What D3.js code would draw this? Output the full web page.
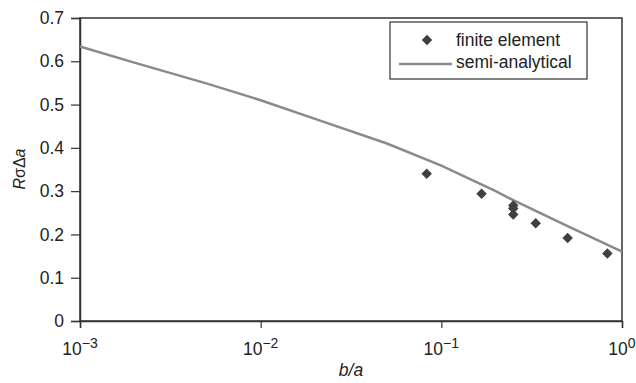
<!DOCTYPE html>
<html>
<head>
<meta charset="utf-8">
<script src="https://cdn.jsdelivr.net/npm/d3@7"></script>
<style>
  body { margin: 0; background: #fff; }
  svg { font-family: "Liberation Sans", Arial, sans-serif; }
</style>
</head>
<body>
<svg id="chart" width="636" height="383"></svg>
<script>
// finite element results (b/a, R sigma Delta a)
const feRatio = [0.083, 0.167, 0.25, 0.25, 0.25, 0.333, 0.5, 0.83];
const feValue = [0.340, 0.294, 0.267, 0.260, 0.246, 0.226, 0.192, 0.156];

// semi-analytical curve
const saRatio = [0.001, 0.002, 0.005, 0.01, 0.02, 0.05, 0.1, 0.2, 0.25, 0.5, 1];
const saValue = [0.634, 0.597, 0.549, 0.510, 0.467, 0.410, 0.359, 0.300, 0.279, 0.219, 0.160];

const xTicks = [1e-3, 1e-2, 1e-1, 1];
const xTickExp = ["\u22123", "\u22122", "\u22121", "0"];
const yTicks = [0, 0.1, 0.2, 0.3, 0.4, 0.5, 0.6, 0.7];

const svg = d3.select("#chart");
const plotLeft = 80, plotRight = 622, plotTop = 18, plotBottom = 321;
const fs = 17.5;

const x = d3.scaleLog().domain([1e-3, 1]).range([plotLeft, plotRight]);
const y = d3.scaleLinear().domain([0, 0.7]).range([plotBottom, plotTop]);

// frame
svg.append("rect")
    .attr("x", plotLeft).attr("y", plotTop)
    .attr("width", plotRight - plotLeft).attr("height", plotBottom - plotTop)
    .attr("fill", "none").attr("stroke", "#333").attr("stroke-width", 1.5);

// y axis
const yAxis = svg.append("g")
    .attr("transform", `translate(${plotLeft},0)`)
    .call(d3.axisLeft(y).tickValues(yTicks).tickSize(9).tickPadding(7)
        .tickFormat(d => d === 0 ? "0" : d3.format(".1f")(d)));
yAxis.select(".domain").attr("stroke", "#333").attr("stroke-width", 1.5);
yAxis.selectAll(".tick line").attr("stroke", "#333").attr("stroke-width", 1.2);
yAxis.selectAll("text").attr("font-size", fs).attr("fill", "#222");

// x axis
const xAxis = svg.append("g")
    .attr("transform", `translate(0,${plotBottom})`)
    .call(d3.axisBottom(x).tickValues(xTicks).tickSize(7).tickFormat(""));
xAxis.select(".domain").attr("stroke", "#333").attr("stroke-width", 1.5);
xAxis.selectAll(".tick line").attr("stroke", "#333").attr("stroke-width", 1.2);

const xLab = svg.append("g").selectAll("text")
    .data(xTicks)
    .join("text")
    .attr("x", d => x(d))
    .attr("y", plotBottom + 34)
    .attr("text-anchor", "middle")
    .attr("font-size", fs)
    .attr("fill", "#222");
xLab.append("tspan").text("10");
xLab.append("tspan").attr("dy", -7).attr("font-size", 14).text((d, i) => xTickExp[i]);

// axis titles
svg.append("text")
    .attr("x", (plotLeft + plotRight) / 2).attr("y", 376)
    .attr("text-anchor", "middle").attr("font-size", fs).attr("fill", "#222")
    .attr("font-style", "italic").text("b/a");

const yTitle = svg.append("text")
    .attr("transform", "translate(25,169) rotate(-90)")
    .attr("text-anchor", "middle").attr("font-size", 16).attr("fill", "#222");
yTitle.append("tspan").attr("font-style", "italic").text("R");
yTitle.append("tspan").text("\u03c3\u0394");
yTitle.append("tspan").attr("font-style", "italic").text("a");

// semi-analytical line
const saData = saRatio.map((r, i) => [r, saValue[i]]);
svg.append("path")
    .datum(saData)
    .attr("fill", "none").attr("stroke", "#8a8a8a").attr("stroke-width", 2.5)
    .attr("d", d3.line().x(d => x(d[0])).y(d => y(d[1])));

// finite element diamonds
const diamond = d3.symbol().type(d3.symbolSquare).size(55);
svg.append("g").selectAll("path")
    .data(feRatio.map((r, i) => [r, feValue[i]]))
    .join("path")
    .attr("d", diamond)
    .attr("transform", d => `translate(${x(d[0])},${y(d[1])}) rotate(45)`)
    .attr("fill", "#404040");

// legend
const lg = svg.append("g");
lg.append("rect")
    .attr("x", 390).attr("y", 22).attr("width", 197).attr("height", 57)
    .attr("fill", "#fff").attr("stroke", "#333").attr("stroke-width", 1.2);
lg.append("path")
    .attr("d", diamond)
    .attr("transform", "translate(427,40) rotate(45)")
    .attr("fill", "#404040");
lg.append("line")
    .attr("x1", 399).attr("x2", 452).attr("y1", 64).attr("y2", 64)
    .attr("stroke", "#8a8a8a").attr("stroke-width", 2.5);
lg.append("text").attr("x", 456).attr("y", 46)
    .attr("font-size", fs).attr("fill", "#222").text("finite element");
lg.append("text").attr("x", 456).attr("y", 68)
    .attr("font-size", fs).attr("fill", "#222").text("semi-analytical");
</script>
</body>
</html>
